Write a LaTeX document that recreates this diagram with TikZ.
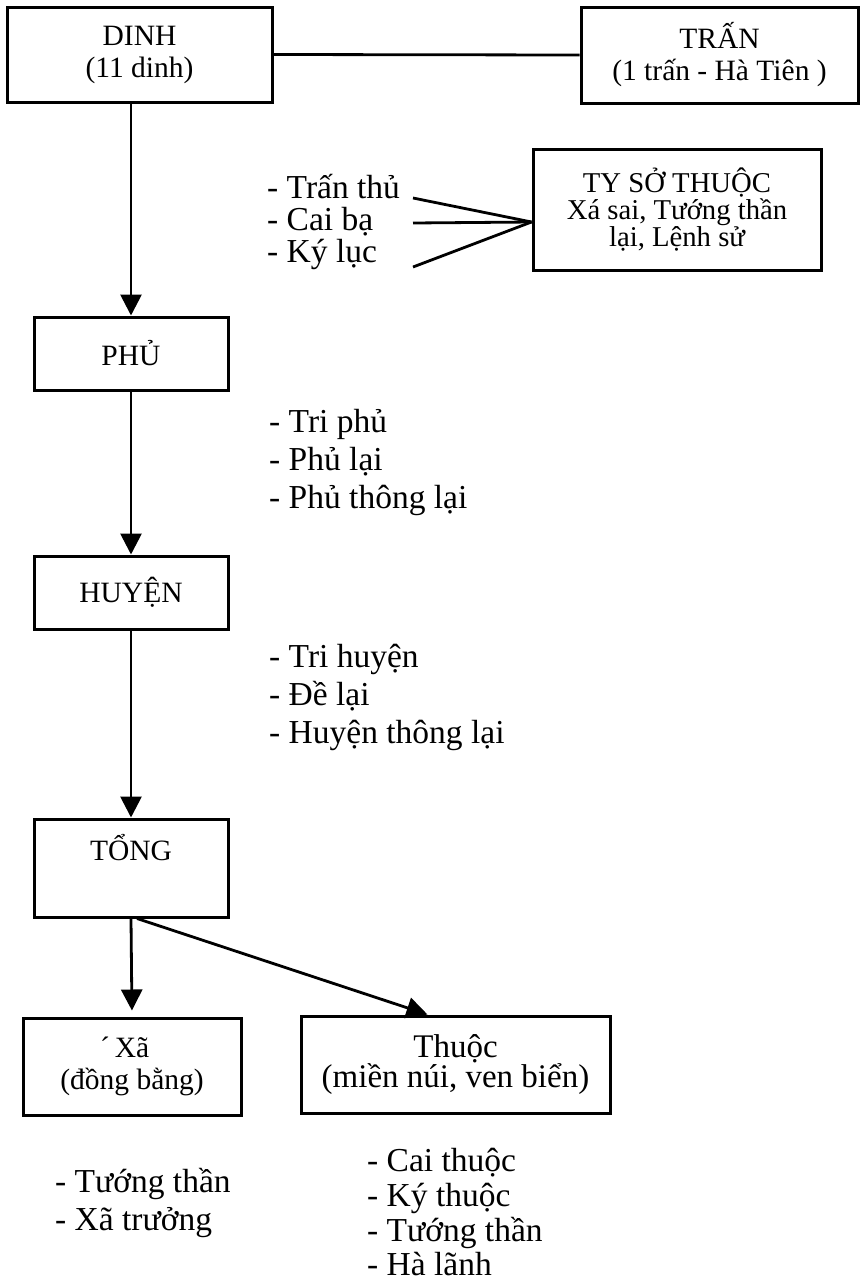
\documentclass[tikz,border=0pt]{standalone}
\usepackage{fontspec}
\setmainfont{Liberation Serif}
\usetikzlibrary{arrows.meta, positioning, calc}

\newcommand{\boxfont}{\fontsize{29.5}{32}\selectfont}
\newcommand{\tyfont}{\fontsize{28.7}{24}\selectfont}
\newcommand{\thuocfont}{\fontsize{33}{30}\selectfont}
\newcommand{\itemfont}{\fontsize{33.5}{38}\selectfont}

\tikzset{
  box/.style={draw, line width=3pt, align=center, inner sep=0pt, font=\boxfont},
  item/.style={anchor=base west, inner sep=0pt, font=\itemfont},
  link/.style={line width=2.8pt},
  arr/.style={link, -{Triangle[length=21pt, width=21pt]}}
}

\begin{document}
\begin{tikzpicture}[x=1pt, y=-1pt]
\useasboundingbox (0,0) rectangle (863,1283);

%---------------- Boxes ----------------%
\node[box, minimum width=265pt, minimum height=95pt] (dinh) at (139.5,54.5) {DINH\\(11 dinh)};
\node[box, minimum width=277pt, minimum height=96pt] (tran) at (719.5,55) {TRẤN\\(1 trấn - Hà Tiên )};
\node[box, font=\tyfont, minimum width=288pt, minimum height=121pt] (tyso) at (677,209.5)
     {TY SỞ THUỘC\\Xá sai, Tướng thần\\lại, Lệnh sử};
\node[box, minimum width=194pt, minimum height=73pt] (phu) at (131,353.5) {PHỦ};
\node[box, minimum width=194pt, minimum height=73pt] (huyen) at (131,592.5) {HUYỆN};
\node[box, minimum width=194pt, minimum height=98pt] (tong) at (131,868) {TỔNG\\\strut};
\node[box, minimum width=218pt, minimum height=97pt] (xa) at (132,1066.5) {\llap{´\,}Xã\\(đồng bằng)};
\node[box, font=\thuocfont, minimum width=309pt, minimum height=97pt] (thuoc) at (455.5,1064.5)
     {Thuộc\\(miền núi, ven biển)};

%---------------- Officials ----------------%
\node[item] (tt) at (267,198) {- Trấn thủ};
\node[item] (cb) at (267,230) {- Cai bạ};
\node[item] (kl) at (267,262) {- Ký lục};

\node[item] (triphu) at (269,432) {- Tri phủ};
\node[item] (phulai) at (269,470) {- Phủ lại};
\node[item] (phuthong) at (269,508) {- Phủ thông lại};

\node[item] (trihuyen) at (269,667) {- Tri huyện};
\node[item] (delai) at (269,705) {- Đề lại};
\node[item] (huyenthong) at (269,743) {- Huyện thông lại};

\node[item] (tuongxa) at (55,1192) {- Tướng thần};
\node[item] (xatruong) at (55,1230) {- Xã trưởng};

\node[item] (caithuoc) at (367,1171) {- Cai thuộc};
\node[item] (kythuoc) at (367,1206) {- Ký thuộc};
\node[item] (tuongthuoc) at (367,1241) {- Tướng thần};
\node[item] (halanh) at (367,1275) {- Hà lãnh};

%---------------- Connectors ----------------%
\draw[link] (dinh.east) -- (tran.west);

\coordinate (s1) at (413,198);
\coordinate (s2) at (413,223);
\coordinate (s3) at (413,267);
\coordinate (tyin) at ($(tyso.west)+(0,12.5)$);
\foreach \s in {s1,s2,s3}
  \draw[link] (\s) -- (tyin);

\draw[arr] (dinh.south -| phu.north) -- (phu.north);
\draw[arr] (phu.south) -- (huyen.north);
\draw[arr] (huyen.south) -- (tong.north);
\draw[arr, shorten >=6pt] (tong.south) -- (xa.north);
\draw[arr] ($(tong.south)+(6,0)$) -- ($(thuoc.north)+(-28,0)$);

\end{tikzpicture}
\end{document}
